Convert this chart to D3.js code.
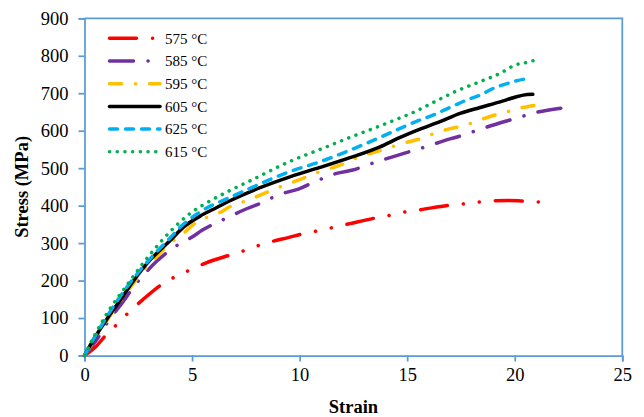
<!DOCTYPE html>
<html>
<head>
<meta charset="utf-8">
<script src="https://cdn.jsdelivr.net/npm/d3@7"></script>
<style>
  html, body { margin: 0; padding: 0; background: #fff; }
  svg { display: block; font-family: "Liberation Serif", "Times New Roman", serif; }
</style>
</head>
<body>
<svg id="chart" width="644" height="417"></svg>
<script>
// Tensile stress–strain curves at six temperatures
const seriesNames = ["575 °C", "585 °C", "595 °C", "605 °C", "625 °C", "615 °C"];

const strain575 = [0, 0.5, 1.06, 1.6, 2.12, 2.69, 3.62, 4.28, 4.94, 5.6, 6.76, 7.54, 8.16, 9.55, 10.17, 10.87, 11.57, 12.34, 13.43, 14.28, 14.98, 15.6, 16.96, 17.66, 18.39, 19.08, 19.7, 20.4, 21.1];
const stress575 = [0, 22, 59, 88, 119, 148, 191, 212, 229, 246, 268, 282, 295, 316, 325, 333, 342, 352, 366, 375, 384, 389, 401, 405, 410, 413, 414, 412, 410];

const strain585 = [0, 0.6, 1.2, 1.68, 2.3, 3.33, 4.33, 4.94, 5.52, 6.72, 7.35, 8.0, 9.24, 9.94, 10.56, 11.72, 12.47, 13.12, 14.36, 15.05, 15.75, 16.99, 17.66, 18.3, 19.63, 20.28, 20.94, 22.14];
const stress585 = [0, 45, 100, 135, 184, 250, 295, 314, 336, 370, 387, 402, 433, 444, 460, 486, 495, 508, 531, 543, 555, 578, 589, 602, 626, 637, 648, 660];

const strain595 = [0, 0.5, 1.0, 2.0, 3.0, 4.0, 4.59, 5.14, 6.3, 6.92, 7.54, 8.08, 9.09, 10.02, 10.95, 11.88, 12.81, 13.74, 14.67, 15.68, 16.37, 16.96, 17.61, 18.31, 18.85, 19.52, 20.2, 20.74, 21.49];
const stress595 = [0, 45, 90, 172, 242, 300, 326, 353, 382, 402, 413, 426, 450, 470, 491, 508, 531, 547, 564, 580, 595, 605, 613, 627, 638, 648, 660, 666, 673];

const strain605 = [0, 0.5, 1.06, 1.6, 2.3, 3.05, 3.97, 4.59, 5.37, 6.15, 6.76, 8.16, 9.55, 10.95, 12.34, 13.74, 14.67, 15.6, 16.53, 17.46, 18.39, 19.32, 19.93, 20.4, 20.84];
const stress605 = [0, 50, 99, 143, 201, 255, 306, 342, 372, 395, 413, 448, 477, 502, 528, 557, 582, 604, 624, 646, 662, 677, 688, 695, 697];

const strain625 = [0, 0.5, 1.0, 2.0, 3.0, 4.0, 4.44, 5.37, 6.76, 7.69, 9.55, 10.95, 12.34, 13.74, 14.67, 15.44, 16.22, 16.99, 17.77, 18.39, 19.0, 19.78, 20.4, 20.6];
const stress625 = [0, 52, 100, 185, 255, 315, 342, 383, 422, 446, 491, 517, 548, 582, 606, 625, 642, 662, 682, 695, 713, 728, 737, 738];

const strain615 = [0, 0.5, 1.0, 2.0, 3.05, 3.97, 4.9, 5.76, 6.61, 7.69, 9.55, 10.95, 12.34, 13.74, 14.67, 15.37, 16.37, 17.38, 18.39, 19.32, 20.01, 20.71, 21.05];
const stress615 = [0, 57, 108, 190, 270, 330, 379, 410, 436, 466, 518, 550, 582, 613, 634, 651, 680, 708, 731, 753, 775, 784, 791];

const xTicks = [0, 5, 10, 15, 20, 25];
const yTicks = [0, 100, 200, 300, 400, 500, 600, 700, 800, 900];

const strains = [strain575, strain585, strain595, strain605, strain625, strain615];
const stresses = [stress575, stress585, stress595, stress605, stress625, stress615];

// Line styles per series
const styles = [
  { color: "#FF0000", dash: "27,16,0.1,16,0.1,16" },
  { color: "#7030A0", dash: "24,14.5,0.1,14.5" },
  { color: "#FFC000", dash: "12,14,0.1,14" },
  { color: "#000000", dash: null },
  { color: "#00B0F0", dash: "8,8" },
  { color: "#00B050", dash: "0.1,7.6" }
];

const axisColor = "#5B9BD5";
const plotLeft = 84.5, plotRight = 622.3, plotTop = 18.3, plotBottom = 355.5;

const svg = d3.select("#chart");

const x = d3.scaleLinear().domain([0, 25]).range([plotLeft, plotRight]);
const y = d3.scaleLinear().domain([0, 900]).range([plotBottom, plotTop]);

// Plot frame (top and right edges)
svg.append("path")
  .attr("d", `M${plotLeft},${plotTop}H${plotRight}V${plotBottom}`)
  .attr("fill", "none")
  .attr("stroke", axisColor)
  .attr("stroke-width", 1.75);

// Axes
const xAxis = svg.append("g")
  .attr("transform", `translate(0,${plotBottom})`)
  .call(d3.axisBottom(x).tickValues(xTicks).tickSizeOuter(0).tickSize(6).tickPadding(6));
const yAxis = svg.append("g")
  .attr("transform", `translate(${plotLeft},0)`)
  .call(d3.axisLeft(y).tickValues(yTicks).tickSizeOuter(0).tickSize(6).tickPadding(10));

[xAxis, yAxis].forEach(g => {
  g.attr("font-family", null);
  g.select(".domain").attr("stroke", axisColor).attr("stroke-width", 1.75);
  g.selectAll(".tick line").attr("stroke", axisColor).attr("stroke-width", 1.75);
  g.selectAll(".tick text")
    .attr("fill", "#000")
    .style("font-family", "'Liberation Serif', 'Times New Roman', serif")
    .style("font-size", "18.5px");
});
xAxis.selectAll(".tick text").attr("dy", "0.71em");

// Axis titles
svg.append("text")
  .attr("x", (plotLeft + plotRight) / 2)
  .attr("y", 413)
  .attr("text-anchor", "middle")
  .attr("font-weight", "bold")
  .attr("font-size", "18.5px")
  .text("Strain");

svg.append("text")
  .attr("transform", `translate(28,${(plotTop + plotBottom) / 2}) rotate(-90)`)
  .attr("text-anchor", "middle")
  .attr("font-weight", "bold")
  .attr("font-size", "18.5px")
  .text("Stress (MPa)");

// Curves
const line = d3.line()
  .x(d => x(d[0]))
  .y(d => y(d[1]))
  .curve(d3.curveMonotoneX);

strains.forEach((xs, i) => {
  const pts = xs.map((v, j) => [v, stresses[i][j]]);
  const p = svg.append("path")
    .datum(pts)
    .attr("d", line)
    .attr("fill", "none")
    .attr("stroke", styles[i].color)
    .attr("stroke-width", 3.5)
    .attr("stroke-linecap", "round")
    .attr("stroke-linejoin", "round");
  if (styles[i].dash) p.attr("stroke-dasharray", styles[i].dash);
});

// Legend
const legend = svg.append("g");
seriesNames.forEach((name, i) => {
  const ly = 38.3 + i * 22.7;
  const l = legend.append("line")
    .attr("x1", 109.5).attr("x2", 160)
    .attr("y1", ly).attr("y2", ly)
    .attr("stroke", styles[i].color)
    .attr("stroke-width", 3.5)
    .attr("stroke-linecap", "round");
  if (styles[i].dash) l.attr("stroke-dasharray", styles[i].dash);
  legend.append("text")
    .attr("x", 165)
    .attr("y", ly)
    .attr("dy", "0.35em")
    .attr("font-size", "15px")
    .text(name);
});
</script>
</body>
</html>
